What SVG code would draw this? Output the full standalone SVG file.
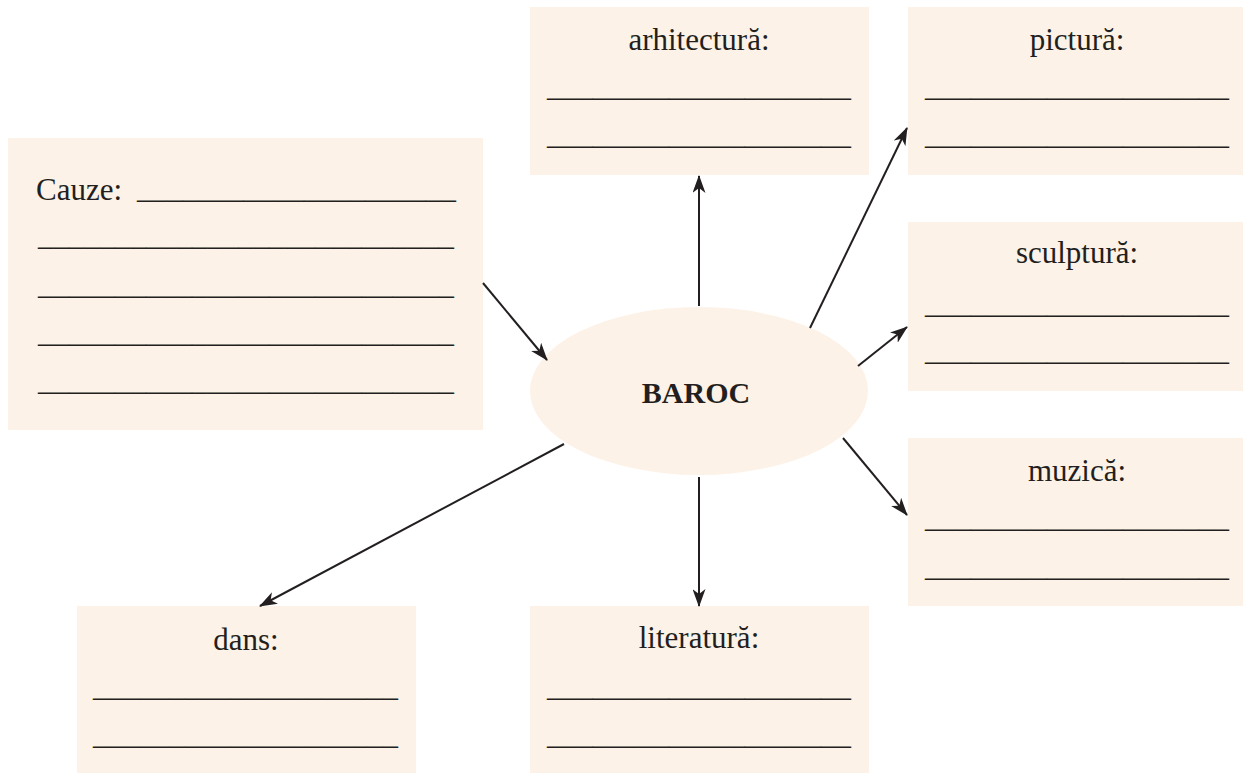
<svg xmlns="http://www.w3.org/2000/svg" width="1243" height="773" viewBox="0 0 1243 773">
<style>
.box{fill:#fdf2e7;stroke:none}
.t{font-family:"Liberation Serif","Times New Roman",serif;font-size:31px;fill:#231f20}
.c{text-anchor:middle}
.u{font-family:"Liberation Serif","Times New Roman",serif;font-size:31px;fill:#231f20}
.b{font-family:"Liberation Serif","Times New Roman",serif;font-size:30px;font-weight:bold;fill:#231f20;text-anchor:middle}
.con line{stroke:#231f20;stroke-width:2;fill:none}
</style>
<defs>
<marker id="ah" viewBox="0 0 18 13" refX="17" refY="6.5" markerWidth="18" markerHeight="13" markerUnits="userSpaceOnUse" orient="auto">
<path d="M0,0 L18,6.5 L0,13 L5,6.5 z" fill="#231f20"/>
</marker>
</defs>
<rect width="1243" height="773" fill="#ffffff"/>

<g id="cauze">
<rect class="box" x="8" y="138" width="475" height="292"/>
<text class="t" x="36" y="200">Cauze:</text>
<text class="u" x="137" y="198" textLength="319" lengthAdjust="spacingAndGlyphs">_____________________</text>
<text class="u" x="38" y="245" textLength="416" lengthAdjust="spacingAndGlyphs">___________________________</text>
<text class="u" x="38" y="294" textLength="416" lengthAdjust="spacingAndGlyphs">___________________________</text>
<text class="u" x="38" y="342" textLength="416" lengthAdjust="spacingAndGlyphs">___________________________</text>
<text class="u" x="38" y="390" textLength="416" lengthAdjust="spacingAndGlyphs">___________________________</text>
</g>

<g id="arhitectura">
<rect class="box" x="530" y="7" width="339" height="168"/>
<text class="t c" x="699" y="50">arhitectură:</text>
<text class="u" x="547" y="96" textLength="304" lengthAdjust="spacingAndGlyphs">____________________</text>
<text class="u" x="547" y="144" textLength="304" lengthAdjust="spacingAndGlyphs">____________________</text>
</g>

<g id="pictura">
<rect class="box" x="908" y="7" width="340" height="168"/>
<text class="t c" x="1077" y="50">pictură:</text>
<text class="u" x="925" y="96" textLength="304" lengthAdjust="spacingAndGlyphs">____________________</text>
<text class="u" x="925" y="144" textLength="304" lengthAdjust="spacingAndGlyphs">____________________</text>
</g>

<g id="sculptura">
<rect class="box" x="908" y="222" width="340" height="169"/>
<text class="t c" x="1077" y="263">sculptură:</text>
<text class="u" x="925" y="313" textLength="304" lengthAdjust="spacingAndGlyphs">____________________</text>
<text class="u" x="925" y="360" textLength="304" lengthAdjust="spacingAndGlyphs">____________________</text>
</g>

<g id="muzica">
<rect class="box" x="908" y="438" width="340" height="168"/>
<text class="t c" x="1077" y="481">muzică:</text>
<text class="u" x="925" y="527" textLength="304" lengthAdjust="spacingAndGlyphs">____________________</text>
<text class="u" x="925" y="576" textLength="304" lengthAdjust="spacingAndGlyphs">____________________</text>
</g>

<g id="dans">
<rect class="box" x="77" y="606" width="339" height="167"/>
<text class="t c" x="246" y="650">dans:</text>
<text class="u" x="93" y="696" textLength="305" lengthAdjust="spacingAndGlyphs">____________________</text>
<text class="u" x="93" y="744" textLength="305" lengthAdjust="spacingAndGlyphs">____________________</text>
</g>

<g id="literatura">
<rect class="box" x="530" y="606" width="339" height="167"/>
<text class="t c" x="699" y="648">literatură:</text>
<text class="u" x="547" y="696" textLength="304" lengthAdjust="spacingAndGlyphs">____________________</text>
<text class="u" x="547" y="744" textLength="304" lengthAdjust="spacingAndGlyphs">____________________</text>
</g>

<g id="baroc">
<ellipse class="box" cx="699" cy="391" rx="169" ry="84"/>
<text class="b" x="696" y="403">BAROC</text>
</g>

<g class="con" id="connectors">
<line x1="483" y1="283" x2="547" y2="360" marker-end="url(#ah)"/>
<line x1="699" y1="306" x2="699" y2="176" marker-end="url(#ah)"/>
<line x1="810" y1="328" x2="907" y2="128" marker-end="url(#ah)"/>
<line x1="858" y1="366" x2="907" y2="327" marker-end="url(#ah)"/>
<line x1="843" y1="438" x2="907" y2="515" marker-end="url(#ah)"/>
<line x1="699" y1="477" x2="699" y2="606" marker-end="url(#ah)"/>
<line x1="564" y1="444" x2="260" y2="606" marker-end="url(#ah)"/>
</g>
</svg>
